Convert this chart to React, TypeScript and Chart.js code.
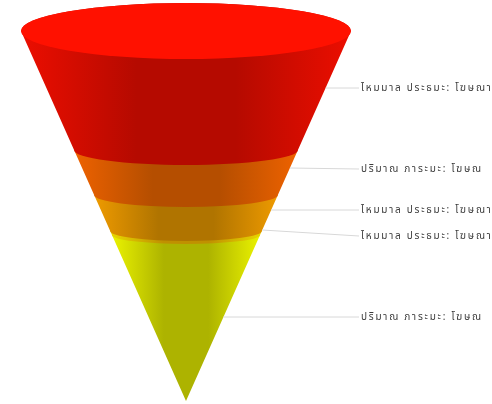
import React, { useEffect, useRef } from "react";
import { Chart, registerables } from "chart.js";

Chart.register(...registerables);

const categories = [
  "ไหมมาล ประธมะ: โฆษณา",
  "ปริมาณ ภาระมะ: โฆษณ",
  "ไหมมาล ประธมะ: โฆษณา",
  "ไหมมาล ประธมะ: โฆษณา",
  "ปริมาณ ภาระมะ: โฆษณ",
];
const segmentHeights = [119, 45, 36, 4, 166];
const rimDepths = [28, 15, 12, 10, 9, 0];
const labelValues = [58, 139, 180, 206, 287];
const anchorValues = [57, 137, 179, 199, 286];
const edgeColors = ["#ec0e00", "#ee6200", "#ee9a00", "#e8d800", "#eaf200"];
const coreColors = ["#b50a00", "#b54e00", "#b07400", "#c09000", "#adb300"];
const capColor = "#ff1100";
const TOP_RADIUS = 165;

const funnelPlugin = {
  id: "funnel3d",
  afterDraw(chart: any) {
    const { ctx, scales } = chart;
    const x = scales.x;
    const y = scales.y;
    const total = segmentHeights.reduce((a, b) => a + b, 0);
    const radiusAt = (v: number) => (TOP_RADIUS * (total - v)) / total;
    const levels = [0];
    segmentHeights.forEach((h) => levels.push(levels[levels.length - 1] + h));
    const cx = x.getPixelForValue(0);

    ctx.save();
    for (let i = segmentHeights.length - 1; i >= 0; i--) {
      const topY = y.getPixelForValue(levels[i]);
      const botY = y.getPixelForValue(levels[i + 1]);
      const rT = x.getPixelForValue(radiusAt(levels[i])) - cx;
      const rB = x.getPixelForValue(radiusAt(levels[i + 1])) - cx;
      const g = ctx.createLinearGradient(cx - rT, 0, cx + rT, 0);
      g.addColorStop(0, edgeColors[i]);
      g.addColorStop(0.35, coreColors[i]);
      g.addColorStop(0.65, coreColors[i]);
      g.addColorStop(1, edgeColors[i]);
      ctx.beginPath();
      ctx.moveTo(cx - rT, topY);
      ctx.lineTo(cx - rB, botY);
      if (rB > 0) ctx.ellipse(cx, botY, rB, rimDepths[i + 1], 0, Math.PI, 0, true);
      ctx.lineTo(cx + rT, topY);
      ctx.ellipse(cx, topY, rT, Math.max(rimDepths[i], 1), 0, 0, Math.PI, true);
      ctx.closePath();
      ctx.fillStyle = g;
      ctx.fill();
    }
    ctx.beginPath();
    ctx.ellipse(cx, y.getPixelForValue(0), x.getPixelForValue(TOP_RADIUS) - cx, rimDepths[0], 0, 0, Math.PI * 2);
    ctx.fillStyle = capColor;
    ctx.fill();

    ctx.font = '10px "Noto Sans Thai", "Noto Sans", "DejaVu Sans", sans-serif';
    ctx.letterSpacing = "1.75px";
    ctx.textBaseline = "middle";
    const labelX = x.right + 10;
    categories.forEach((label, i) => {
      const anchor = anchorValues[i];
      const ly = y.getPixelForValue(labelValues[i]);
      ctx.beginPath();
      ctx.moveTo(x.getPixelForValue(radiusAt(anchor)), y.getPixelForValue(anchor));
      ctx.lineTo(labelX - 2, ly - 1);
      ctx.strokeStyle = "#d8d8d8";
      ctx.lineWidth = 1;
      ctx.stroke();
      ctx.fillStyle = "#3c3c3c";
      ctx.fillText(label, labelX, ly);
    });
    ctx.restore();
  },
};

export default function App() {
  const ref = useRef<HTMLCanvasElement>(null);
  useEffect(() => {
    const chart = new Chart(ref.current!, {
      type: "scatter",
      data: {
        labels: categories,
        datasets: [
          {
            data: segmentHeights.map((h, i) => ({
              x: 0,
              y: segmentHeights.slice(0, i).reduce((a, b) => a + b, 0) + h,
            })),
            pointRadius: 0,
            showLine: false,
          },
        ],
      },
      options: {
        animation: false,
        responsive: false,
        layout: { padding: { left: 21, right: 141, top: 31, bottom: 3 } },
        plugins: { legend: { display: false }, tooltip: { enabled: false } },
        scales: {
          x: { type: "linear", min: -TOP_RADIUS, max: TOP_RADIUS, display: false },
          y: { type: "linear", min: 0, max: 370, reverse: true, display: false },
        },
      },
      plugins: [funnelPlugin],
    });
    return () => chart.destroy();
  }, []);
  return (
    <canvas
      ref={ref}
      width={492}
      height={404}
      style={{ position: "fixed", left: 0, top: 0, width: 492, height: 404, filter: "blur(0.7px)" }}
    />
  );
}
